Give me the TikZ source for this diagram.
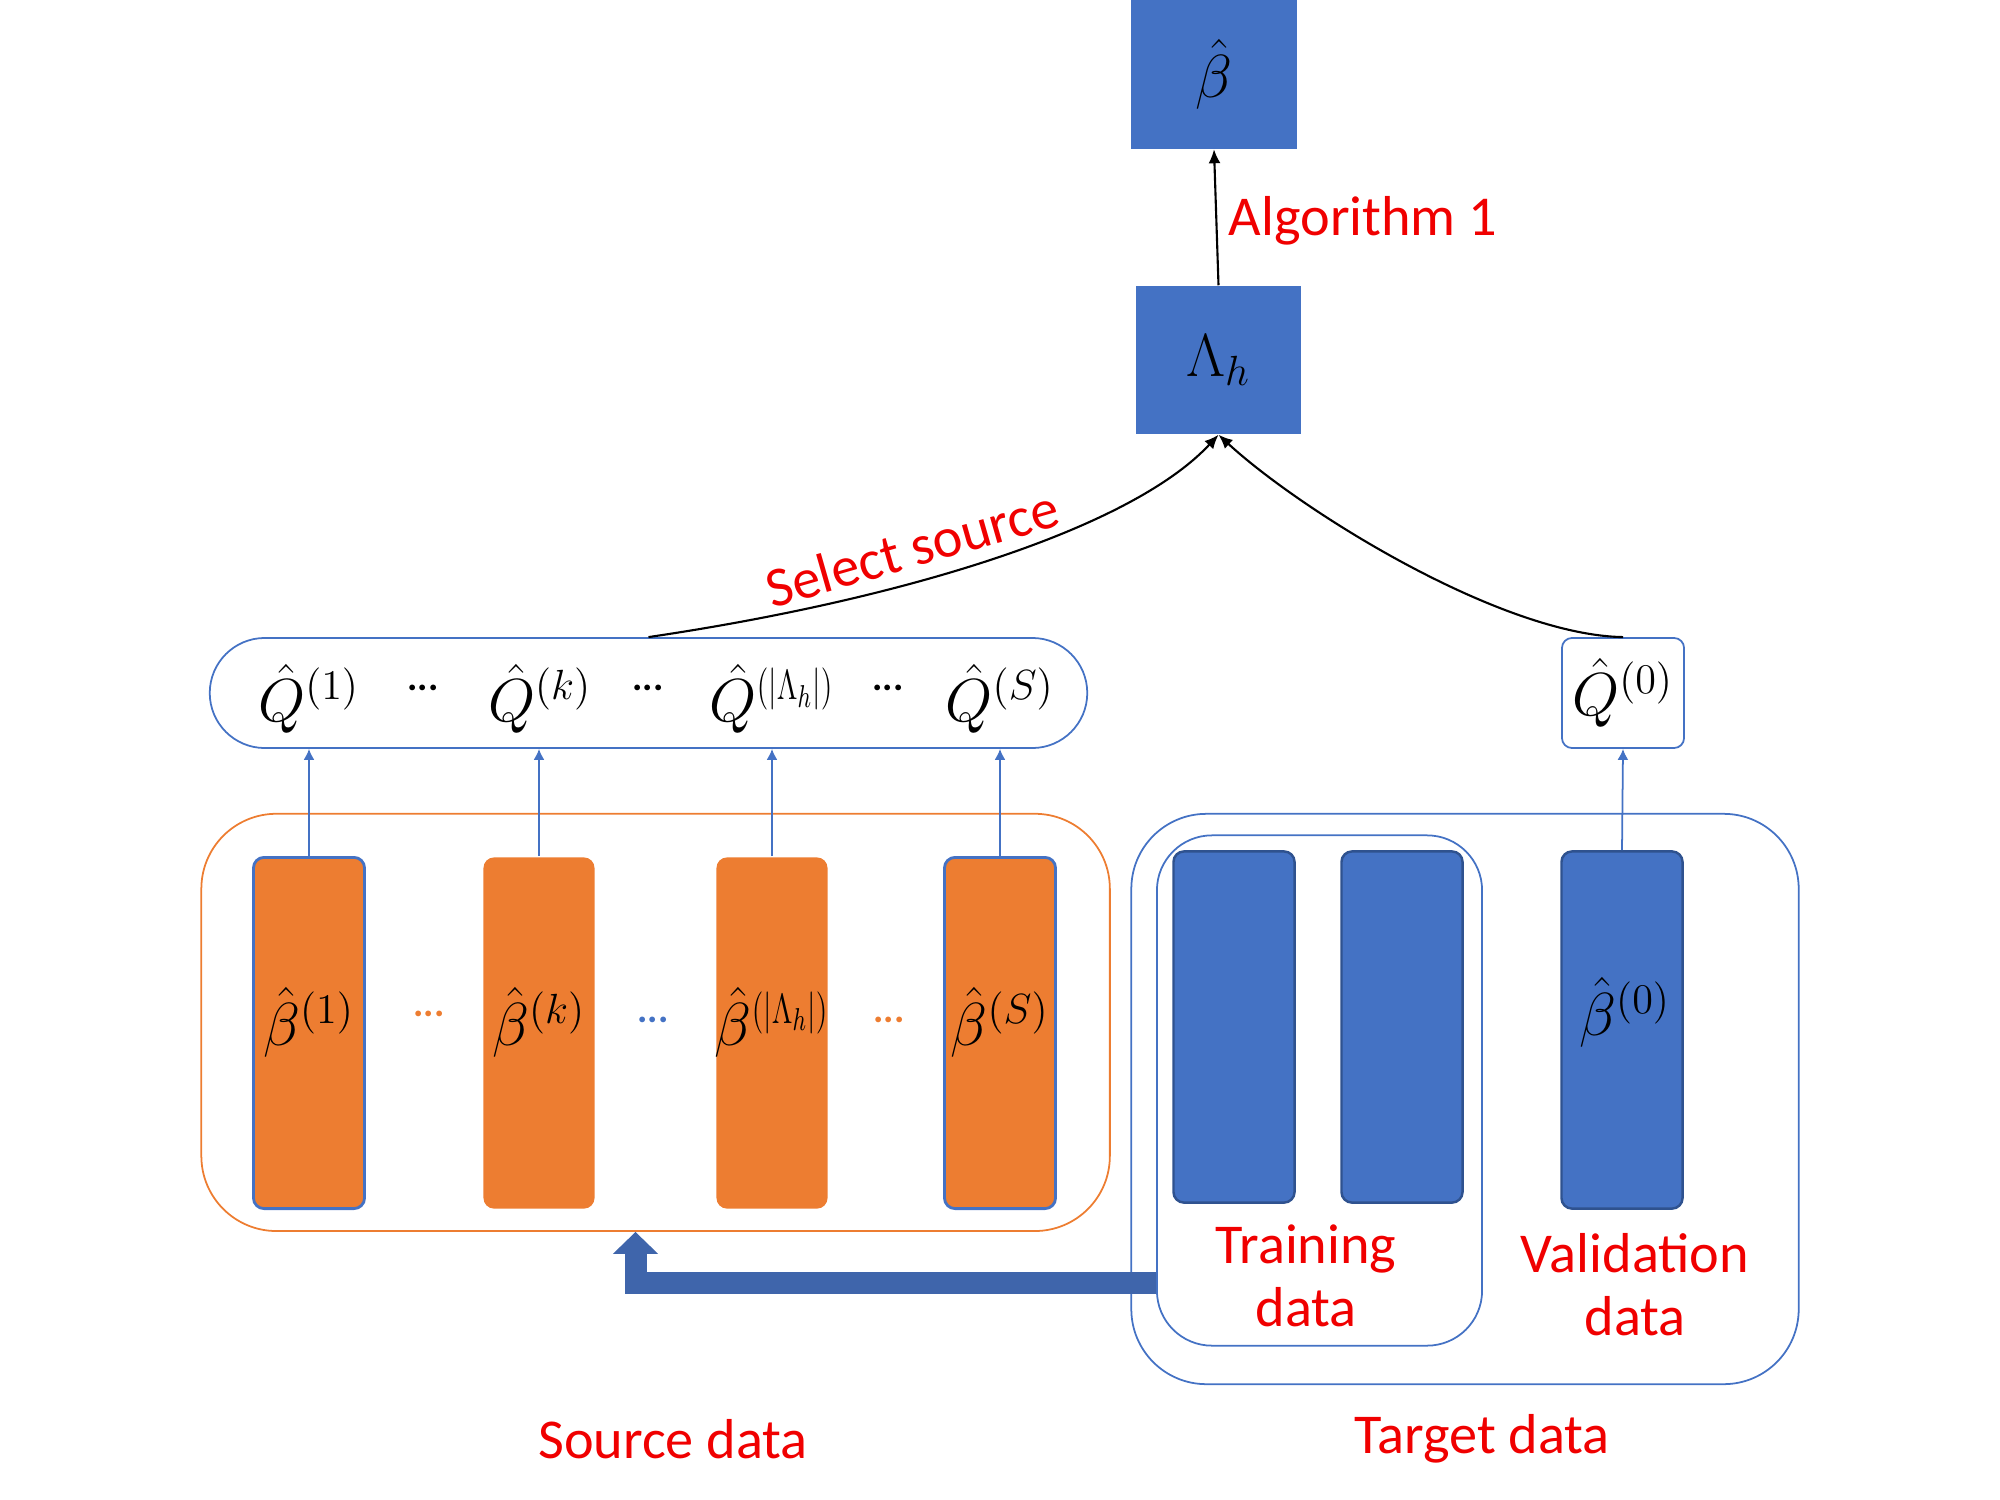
\documentclass[tikz,border=0pt]{standalone}
\usepackage{fontspec}
\setmainfont{Carlito}
\usetikzlibrary{arrows.meta,positioning}

\definecolor{boxblue}{HTML}{4472C4}
\definecolor{edgeblue}{HTML}{2F528F}
\definecolor{barorange}{HTML}{ED7D31}
\definecolor{flowblue}{HTML}{3F65AB}
\definecolor{labelred}{HTML}{F00000}

% squeezed superscript for the selected set
\newcommand{\selsup}{\scalebox{0.72}[1]{$\scriptstyle(|\Lambda_h|)$}}

\tikzset{
  solidbox/.style={fill=boxblue, minimum width=1.66cm, minimum height=1.48cm,
    inner sep=0pt, font=\fontsize{18}{21}\selectfont},
  group/.style={draw=#1, line width=0.5pt, rounded corners=0.75cm, inner sep=0pt},
  srcbar/.style={fill=barorange, rounded corners=3pt, minimum width=1.11cm,
    minimum height=3.51cm, inner sep=0pt},
  tgtbar/.style={fill=boxblue, draw=edgeblue, line width=0.7pt, rounded corners=3pt,
    minimum width=1.21cm, inner sep=0pt},
  redlabel/.style={text=labelred, font=\fontsize{16}{18}\selectfont, align=center, inner sep=0pt},
  dotrow/.style={font=\fontsize{11}{13}\selectfont\bfseries, inner sep=0pt},
  qlab/.style={font=\fontsize{18}{21}\selectfont, inner sep=0pt},
  up/.style={-{Latex[length=1.1mm,width=1.1mm]}, boxblue, line width=0.5pt},
  into/.style={-{Latex[length=1.4mm,width=1.2mm]}, line width=0.6pt},
}

\begin{document}
\begin{tikzpicture}[x=0.01cm,y=-0.01cm]
  \useasboundingbox (0,0) rectangle (2000,1500);

  % Final estimate and the selected set
  \node[solidbox] (beta) at (1214,74.5) {$\hat{\beta}$};
  \node[solidbox, minimum width=1.65cm] (lam) at (1218.5,360) {$\Lambda_h$};
  \draw[into] (lam.north) -- (beta.south);
  \node[redlabel, anchor=west] (alg) at (1228,221) {Algorithm 1};

  % Row of the Q estimates
  \node[draw=boxblue, line width=0.5pt, rounded corners=0.55cm, minimum width=8.77cm,
    minimum height=1.1cm, inner sep=0pt] (qrow) at (648.5,693) {};
  \foreach \x/\n/\lab in {309/q1/{(1)}, 540/qk/{(k)}, 772/qh/{\selsup}, 1000/qs/{(S)}} {
    \node[qlab] (\n) at (\x,699) {$\hat{Q}^{\lab}$};
  }
  \foreach \x [count=\i] in {423,648,888} {
    \node[dotrow] (qd\i) at (\x,688) {...};
  }
  \node[draw=boxblue, line width=0.5pt, rounded corners=0.1cm, minimum width=1.22cm,
    minimum height=1.1cm, qlab] (q0) at (1623,693) {$\hat{Q}^{(0)}$};

  % Source data
  \node[group=barorange, minimum width=9.08cm, minimum height=4.17cm] (src) at (655.6,1022.4) {};
  \foreach \x/\n/\lab/\edge in {309/b1/{(1)}/boxblue, 539/bk/{(k)}/none,
      772/bh/{\selsup}/none, 1000/bs/{(S)}/boxblue} {
    \node[srcbar, draw=\edge, line width=0.8pt] (\n) at (\x,1033) {};
    \node[qlab] (\n lab) at (\x,1022) {$\hat{\beta}^{\lab}$};
    \draw[up] (\n.north) -- (\n.north |- qrow.south);
  }
  \node[dotrow, text=barorange] (sd1) at (429,1014) {...};
  \node[dotrow, text=boxblue] (sd2) at (653,1020) {...};
  \node[dotrow, text=barorange] (sd3) at (889,1020) {...};

  % Target data
  \node[group=boxblue, minimum width=6.67cm, minimum height=5.70cm] (tgt) at (1465,1099) {};
  \node[draw=boxblue, line width=0.5pt, rounded corners=0.55cm, minimum width=3.25cm,
    minimum height=5.10cm, inner sep=0pt] (train) at (1319.5,1090.5) {};
  \node[tgtbar, minimum height=3.51cm] (t1) at (1234,1027) {};
  \node[tgtbar, minimum height=3.51cm] (t2) at (1402,1027) {};
  \node[tgtbar, minimum height=3.57cm] (val) at (1622,1030) {};
  \node[qlab] (vallab0) at (1625,1012) {$\hat{\beta}^{(0)}$};
  \draw[up] (val.north) -- (q0.south);

  % Curves into the selected set
  \draw[into] (qrow.north) .. controls (900,600) and (1130,530) .. (lam.south);
  \draw[into] (q0.north) .. controls (1500,635) and (1300,510) .. (lam.south);
  \node[redlabel, rotate=16] (sel) at (912,548) {Select source};

  % Big arrow from the training data back to the sources
  \coordinate (turn) at (635.5,1283);
  \draw[flowblue, line width=2.2mm, -{Triangle[length=2.2mm,width=4.4mm]}]
    (train.west |- turn) -- (turn) -- (turn |- src.south);

  % Labels
  \node[redlabel] (trainlab) at (1306,1276) {Training\\data};
  \node[redlabel] (vallab) at (1635,1285) {Validation\\data};
  \node[redlabel] (srclab) at (673,1439) {Source data};
  \node[redlabel] (tgtlab) at (1482,1439) {Target data};
\end{tikzpicture}
\end{document}
